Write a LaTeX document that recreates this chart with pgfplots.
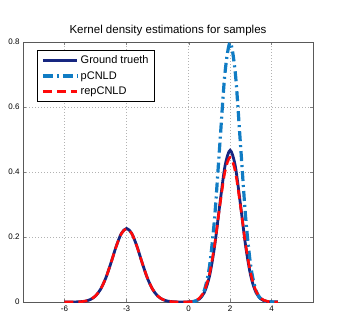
\documentclass[border=0pt]{standalone}
\usepackage{fontspec}
\setmainfont{Liberation Sans}
\usepackage{pgfplots}
\pgfplotsset{compat=1.18}
\usetikzlibrary{calc}
\definecolor{gtNavy}{RGB}{22, 38, 128}
\definecolor{pcBlue}{RGB}{16, 124, 196}
\definecolor{repRed}{RGB}{255, 10, 10}

\begin{document}
\begin{tikzpicture}
\begin{axis}[
    scale only axis,
    width=290pt, height=260pt,
    xmin=-8, xmax=6, ymin=0, ymax=0.8,
    xtick={-6,-3,0,2,4},
    ytick={0,0.2,0.4,0.6,0.8},
    y tick label style={/pgf/number format/fixed, /pgf/number format/precision=1},
    tick label style={font=\fontsize{8pt}{9pt}\selectfont},
    /pgf/number format/assume math mode=true,
    tick align=inside, major tick length=3pt,
    grid=major, grid style={dash pattern=on 0.6pt off 2.4pt, gray!60, line width=0.5pt},
    axis line style={black!65, line width=0.9pt},
    title={Kernel density estimations for samples},
    title style={font=\fontsize{11.5pt}{13pt}\selectfont, yshift=-3pt},
    legend cell align=left,
    legend style={at={(0.048,0.969)}, anchor=north west, draw=black, line width=0.9pt,
        font=\fontsize{11pt}{13pt}\selectfont, row sep=2.5pt, inner xsep=4pt, inner ysep=3pt},
    legend image code/.code={\draw[#1] (0cm,0cm) -- (1.2cm,0cm);},
]
% Ground truth
\addplot[gtNavy, line width=2.8pt, smooth] coordinates {
    (-6,0.0000) (-5.5,0.0002) (-5.25,0.0008) (-5,0.0026) (-4.75,0.0075)
    (-4.5,0.0185) (-4.25,0.0397) (-4,0.0743) (-3.75,0.1210) (-3.5,0.1713)
    (-3.25,0.2111) (-3,0.2263) (-2.75,0.2111) (-2.5,0.1713) (-2.25,0.1210)
    (-2,0.0743) (-1.75,0.0397) (-1.5,0.0185) (-1.25,0.0075) (-1,0.0026)
    (-0.75,0.0008) (-0.5,0.0002) (0,0.0004) (0.25,0.0020) (0.5,0.0085)
    (0.75,0.0289) (1,0.0787) (1.25,0.1715) (1.5,0.2991) (1.75,0.4177)
    (2,0.4668) (2.25,0.4177) (2.5,0.2991) (2.75,0.1715) (3,0.0787)
    (3.25,0.0289) (3.5,0.0085) (3.75,0.0020) (4,0.0004) (4.3,0.0000)
};
\addlegendentry{Ground trueth}
% pCNLD
\addplot[pcBlue, line width=3.2pt, smooth, dash pattern=on 10pt off 4pt on 2pt off 4pt] coordinates {
    (0,0.0003) (0.25,0.0017) (0.5,0.0089) (0.75,0.0351) (1,0.1080)
    (1.25,0.2591) (1.5,0.4840) (1.75,0.7042) (2,0.7980) (2.25,0.7042)
    (2.5,0.4840) (2.75,0.2591) (3,0.1080) (3.25,0.0351) (3.5,0.0089)
    (3.75,0.0017) (4,0.0003) (4.3,0.0000)
};
\addlegendentry{pCNLD}
% repCNLD
\addplot[repRed, line width=2.6pt, smooth, dash pattern=on 9pt off 5pt] coordinates {
    (-6,0.0000) (-5.5,0.0002) (-5.25,0.0008) (-5,0.0027) (-4.75,0.0077)
    (-4.5,0.0188) (-4.25,0.0400) (-4,0.0745) (-3.75,0.1210) (-3.5,0.1710)
    (-3.25,0.2105) (-3,0.2255) (-2.75,0.2105) (-2.5,0.1710) (-2.25,0.1210)
    (-2,0.0745) (-1.75,0.0400) (-1.5,0.0188) (-1.25,0.0077) (-1,0.0027)
    (-0.75,0.0008) (-0.5,0.0002) (0,0.0006) (0.25,0.0028) (0.5,0.0108)
    (0.75,0.0336) (1,0.0852) (1.25,0.1756) (1.5,0.2944) (1.75,0.4013)
    (2,0.4450) (2.25,0.4013) (2.5,0.2944) (2.75,0.1756) (3,0.0852)
    (3.25,0.0336) (3.5,0.0108) (3.75,0.0028) (4,0.0006) (4.3,0.0000)
};
\addlegendentry{repCNLD}
\end{axis}
\pgfresetboundingbox
\path ($(current axis.south west)+(-23pt,-28pt)$) rectangle ($(current axis.north east)+(32pt,42pt)$);
\end{tikzpicture}
\end{document}
